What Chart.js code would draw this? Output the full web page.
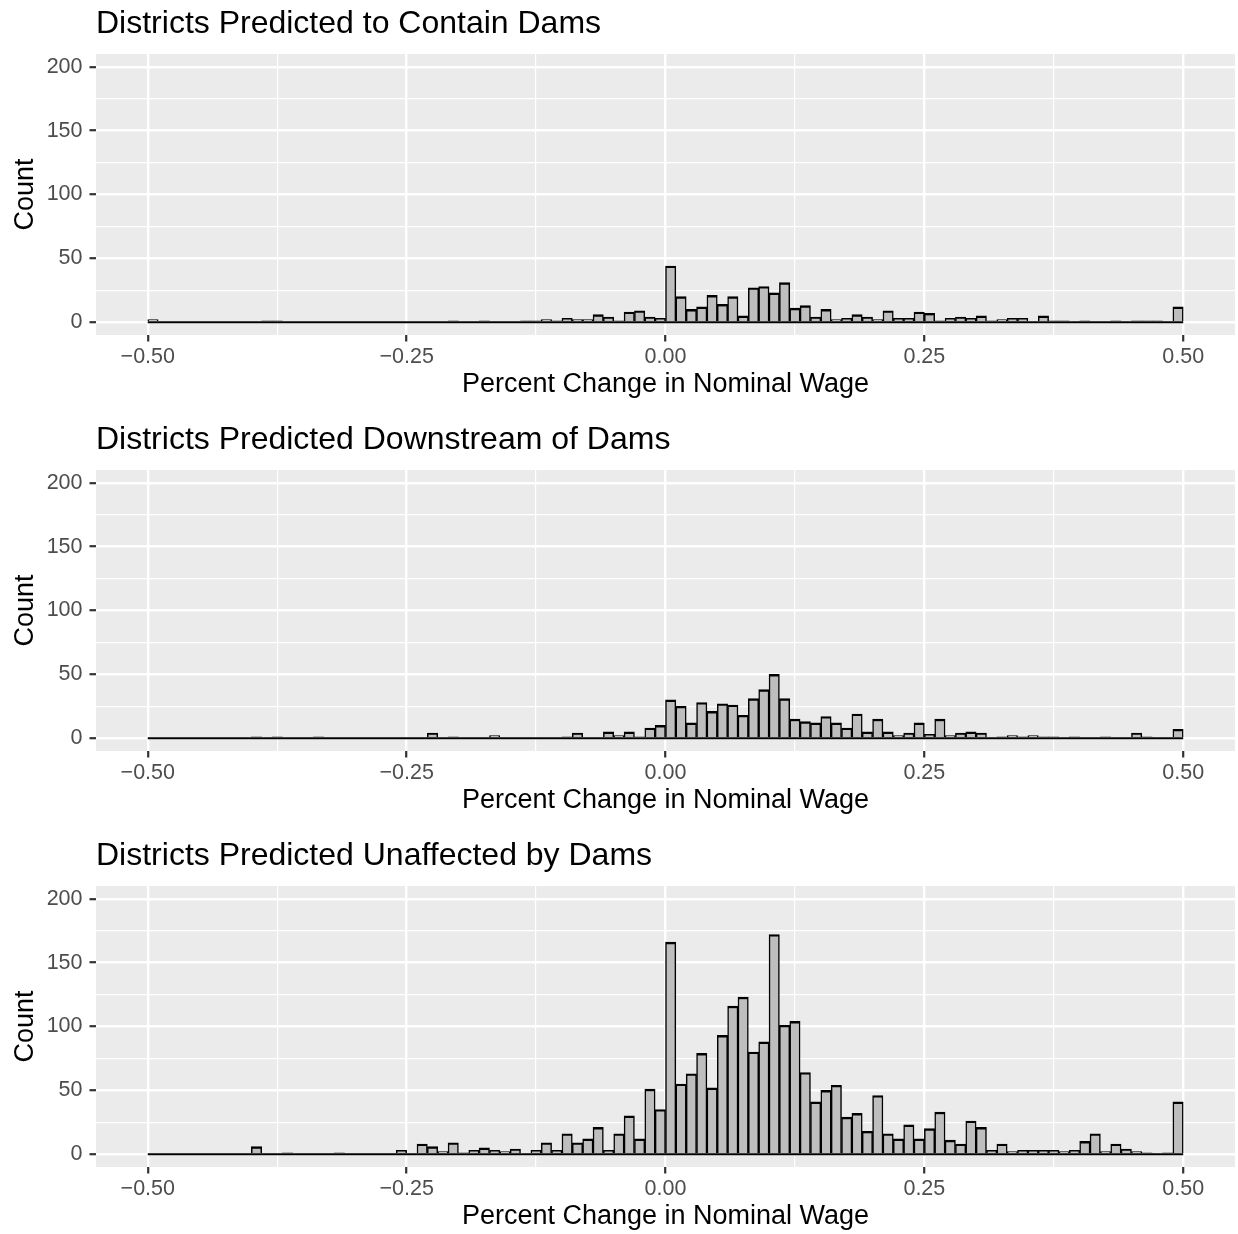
<!DOCTYPE html>
<html>
<head>
<meta charset="utf-8">
<title>Percent Change in Nominal Wage</title>
<script src="https://cdn.jsdelivr.net/npm/chart.js@4.4.1/dist/chart.umd.min.js"></script>
<style>
  html, body { margin: 0; padding: 0; background: #ffffff; overflow: hidden; width: 1238px; height: 1234px; }
  .panel { position: absolute; left: 0; width: 1238px; height: 416px; }
</style>
</head>
<body>
<div class="panel" style="top:0px"><canvas id="contain" width="1238" height="416"></canvas></div>
<div class="panel" style="top:416px"><canvas id="downstream" width="1238" height="416"></canvas></div>
<div class="panel" style="top:832px"><canvas id="unaffected" width="1238" height="416"></canvas></div>
<script>
// histogram bins: 100 bins of width 0.01 from -0.50 to 0.50
const binStart = -0.5;
const binWidth = 0.01;

const xMajorTicks = [-0.5, -0.25, 0, 0.25, 0.5];
const xMinorTicks = [-0.375, -0.125, 0.125, 0.375];
const yMajorTicks = [0, 50, 100, 150, 200];
const yMinorTicks = [25, 75, 125, 175];

const panelTitles = [
  "Districts Predicted to Contain Dams",
  "Districts Predicted Downstream of Dams",
  "Districts Predicted Unaffected by Dams"
];

const containCounts = [
  2, 0, 0, 0, 0, 0, 0, 0, 0, 0,
  0, 1, 1, 0, 0, 0, 0, 0, 0, 0,
  0, 0, 0, 0, 0, 0, 0, 0, 0, 1,
  0, 0, 1, 0, 0, 0, 1, 1, 2, 1,
  3, 2, 2, 6, 4, 1, 8, 9, 4, 3,
  44, 20, 10, 12, 21, 14, 20, 5, 27, 28,
  23, 31, 11, 13, 4, 10, 2, 3, 6, 4,
  2, 9, 3, 3, 8, 7, 1, 3, 4, 3,
  5, 1, 2, 3, 3, 0, 5, 1, 1, 0,
  1, 0, 0, 1, 0, 1, 1, 1, 0, 12
];

const downstreamCounts = [
  0, 0, 0, 0, 0, 0, 0, 0, 0, 0,
  1, 0, 1, 0, 0, 0, 1, 0, 0, 0,
  0, 0, 0, 0, 0, 0, 0, 4, 0, 1,
  0, 0, 0, 2, 0, 0, 0, 0, 0, 0,
  1, 4, 0, 0, 5, 2, 5, 1, 8, 10,
  30, 25, 12, 28, 21, 27, 26, 18, 31, 38,
  50, 31, 15, 13, 12, 17, 12, 8, 19, 5,
  15, 5, 2, 4, 12, 3, 15, 2, 4, 5,
  4, 0, 1, 2, 1, 2, 1, 1, 0, 1,
  0, 0, 1, 0, 0, 4, 1, 0, 0, 7
];

const unaffectedCounts = [
  0, 0, 0, 0, 0, 0, 0, 0, 0, 0,
  6, 0, 0, 1, 0, 0, 0, 0, 1, 0,
  0, 0, 0, 0, 3, 0, 8, 6, 2, 9,
  1, 3, 5, 3, 2, 4, 0, 3, 9, 3,
  16, 9, 12, 21, 3, 16, 30, 12, 51, 35,
  166, 55, 63, 79, 52, 93, 116, 123, 80, 88,
  172, 101, 104, 64, 41, 50, 54, 29, 32, 18,
  46, 16, 12, 23, 12, 20, 33, 11, 8, 26,
  21, 3, 8, 2, 3, 3, 3, 3, 2, 3,
  10, 16, 2, 8, 4, 2, 1, 0, 1, 41
];

const binCenters = containCounts.map((_, i) => +(binStart + binWidth * (i + 0.5)).toFixed(3));

Chart.defaults.font.family = "'Liberation Sans', Arial, sans-serif";
Chart.defaults.animation = false;

// grey panel behind the grid
const panelBackground = {
  id: "panelBackground",
  beforeDraw(chart) {
    const { ctx, chartArea: a } = chart;
    ctx.save();
    ctx.fillStyle = "#EBEBEB";
    ctx.fillRect(a.left, a.top, a.right - a.left, a.bottom - a.top);
    ctx.restore();
  }
};

const fmtX = (v) => v.toFixed(2).replace("-", "\u2212");

function gridOptions(major) {
  return {
    offset: false,
    color: "#FFFFFF",
    lineWidth: (c) => (major.includes(c.tick.value) ? 2.4 : 1.2),
    drawTicks: true,
    tickLength: 6.5,
    tickWidth: 2.2,
    tickColor: (c) => (major.includes(c.tick.value) ? "#333333" : "rgba(0,0,0,0)")
  };
}

function drawPanel(id, title, counts) {
  new Chart(document.getElementById(id), {
    type: "bar",
    data: {
      datasets: [
        {
          type: "line",
          data: [{ x: binStart, y: 0 }, { x: -binStart, y: 0 }],
          borderColor: "#000000",
          borderWidth: 2.2,
          pointRadius: 0,
          order: 0
        },
        {
          data: binCenters.map((x, i) => ({ x: x, y: counts[i] })),
          backgroundColor: "#BEBEBE",
          borderColor: "#000000",
          borderWidth: { top: 2.4, left: 1.5, right: 1.5, bottom: 0 },
          borderSkipped: "start",
          barPercentage: 1,
          categoryPercentage: 1,
          order: 1
        }
      ]
    },
    options: {
      responsive: false,
      layout: { padding: { left: 0, right: 3, top: 0, bottom: 0 } },
      plugins: {
        legend: { display: false },
        tooltip: { enabled: false },
        title: {
          display: true,
          text: title,
          align: "start",
          fullSize: false,
          color: "#000000",
          font: { size: 32, weight: "normal", lineHeight: 1.2 },
          padding: { top: 4.8, bottom: 10.8 }
        }
      },
      scales: {
        x: {
          type: "linear",
          min: -0.55,
          max: 0.55,
          offset: false,
          afterBuildTicks: (s) => {
            s.ticks = xMajorTicks.concat(xMinorTicks).sort((a, b) => a - b).map((v) => ({ value: v }));
          },
          afterFit: (s) => { s.height = 81; },
          ticks: {
            autoSkip: false,
            maxRotation: 0,
            padding: 2.5,
            color: "#4D4D4D",
            font: { size: 21.5 },
            callback: (v) => (xMajorTicks.includes(v) ? fmtX(v) : "")
          },
          grid: gridOptions(xMajorTicks),
          border: { display: false },
          title: {
            display: true,
            text: "Percent Change in Nominal Wage",
            color: "#000000",
            font: { size: 27, lineHeight: 1.2 },
            padding: { top: 0, bottom: 15.2 }
          }
        },
        y: {
          type: "linear",
          min: -10,
          max: 210,
          afterBuildTicks: (s) => {
            s.ticks = yMajorTicks.concat(yMinorTicks).sort((a, b) => a - b).map((v) => ({ value: v }));
          },
          afterFit: (s) => { s.width = 96; },
          ticks: {
            autoSkip: false,
            padding: 7,
            color: "#4D4D4D",
            font: { size: 21.5 },
            callback: (v) => (yMajorTicks.includes(v) ? String(v) : "")
          },
          grid: gridOptions(yMajorTicks),
          border: { display: false },
          title: {
            display: true,
            text: "Count",
            color: "#000000",
            font: { size: 27, lineHeight: 1.2 },
            padding: { top: 9.3, bottom: 0 }
          }
        }
      }
    },
    plugins: [panelBackground]
  });
}

drawPanel("contain", panelTitles[0], containCounts);
drawPanel("downstream", panelTitles[1], downstreamCounts);
drawPanel("unaffected", panelTitles[2], unaffectedCounts);
</script>
</body>
</html>
